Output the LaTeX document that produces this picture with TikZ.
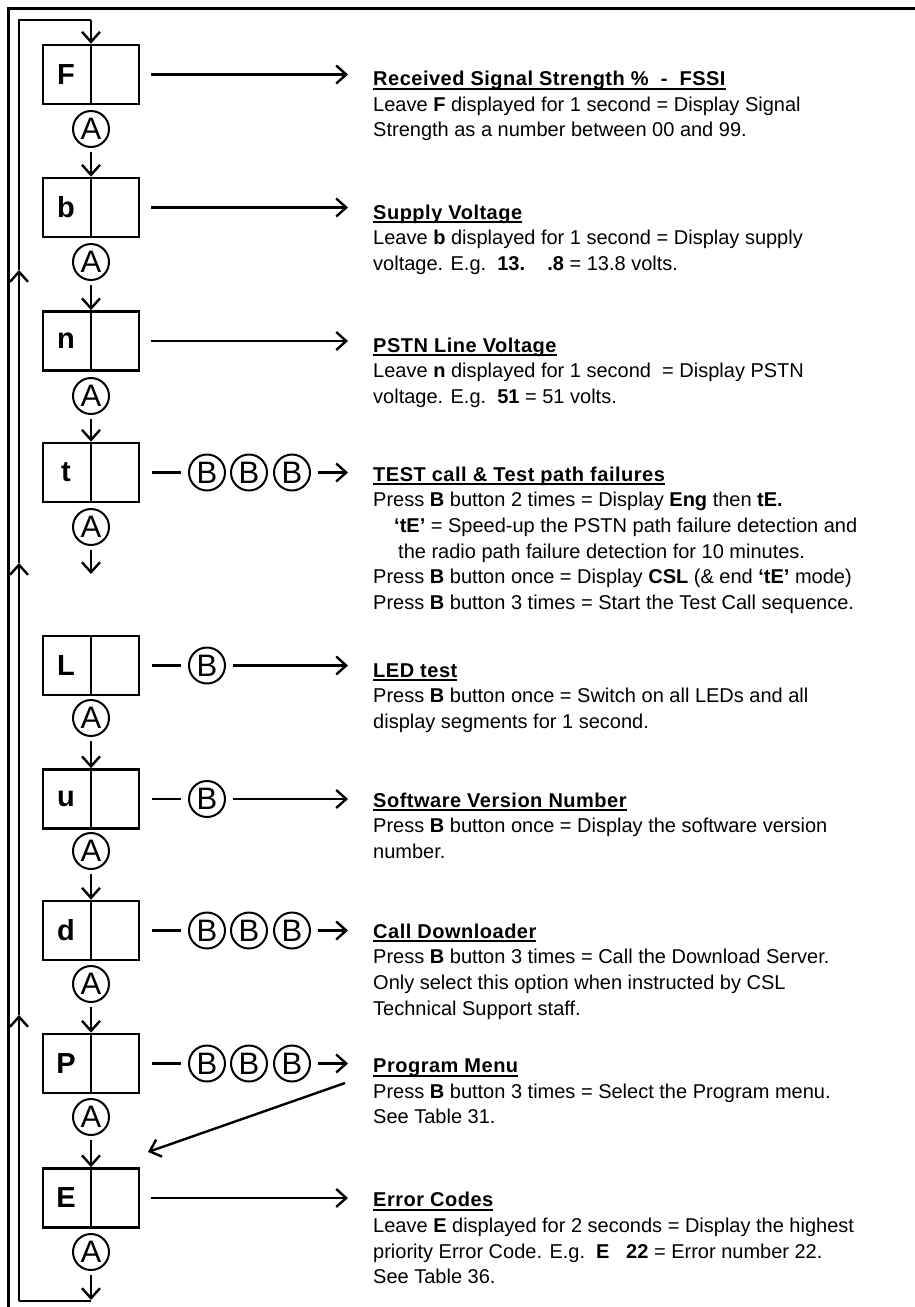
\documentclass[tikz,border=0pt]{standalone}
\usepackage{fontspec}
\setmainfont{Liberation Sans}
\newfontfamily\headfont[LetterSpace=2.5]{Liberation Sans}
\usetikzlibrary{arrows.meta}
\newcommand\ulhead[1]{\setbox0\hbox{\headfont\bfseries #1}\rlap{\rule[-4.2pt]{\wd0}{2pt}}\box0}
\tikzset{
  disp/.style={draw,line width=2.7pt,minimum width=96pt,minimum height=59pt,inner sep=0pt},
  lett/.style={inner sep=0pt,font=\fontsize{29}{29}\bfseries\selectfont},
  btn/.style={draw,circle,line width=2pt,minimum size=36pt,inner sep=0pt,font=\fontsize{31}{31}\selectfont},
  desc/.style={anchor=north west,inner sep=0pt,align=left,font=\fontsize{20}{25.6}\selectfont},
}
\begin{document}
\begin{tikzpicture}[x=1pt,y=-1pt,>={Straight Barb[length=10pt,width=18pt]},line width=2.4pt]
\useasboundingbox (0,0) rectangle (915,1307);
% frame
\draw[line width=3pt] (8,1307) -- (8,8) -- (915,8);

% display boxes
\node[disp] (F) at (91,74.5) {}; \node[lett] (lF) at (66,74.5) {F};
\node[disp] (b) at (91,207.5) {}; \node[lett] (lb) at (66,207.5) {b};
\node[disp] (n) at (91,341) {}; \node[lett] (ln) at (66,341) {n};
\node[disp] (t) at (91,472.5) {}; \node[lett] (lt) at (66,472.5) {t};
\node[disp] (L) at (91,665.5) {}; \node[lett] (lL) at (66,665.5) {L};
\node[disp] (u) at (91,799) {}; \node[lett] (lu) at (66,799) {u};
\node[disp] (d) at (91,930.5) {}; \node[lett] (ld) at (66,930.5) {d};
\node[disp] (P) at (91,1063.5) {}; \node[lett] (lP) at (66,1063.5) {P};
\node[disp] (E) at (91,1198) {}; \node[lett] (lE) at (66,1198) {E};
\foreach \k in {F,b,n,t,L,u,d,P,E} \draw[line width=2.7pt] (\k.north) -- (\k.south);

% A buttons
\node[btn] (aF) at (91,129) {A};
\node[btn] (ab) at (91,262) {A};
\node[btn] (an) at (91,396) {A};
\node[btn] (at) at (91,527) {A};
\node[btn] (aL) at (91,718) {A};
\node[btn] (au) at (91,851) {A};
\node[btn] (ad) at (91,984) {A};
\node[btn] (aP) at (91,1117) {A};
\node[btn] (aE) at (91,1252) {A};
\coordinate (tend) at (91,574);
\coordinate (bot) at (91,1300);

\path (aF) edge[->,shorten <=4pt] (b);
\path (ab) edge[->,shorten <=4pt] (n);
\path (an) edge[->,shorten <=4pt] (t);
\path (at) edge[->,shorten <=4pt] (tend);
\path (aL) edge[->,shorten <=4pt] (u);
\path (au) edge[->,shorten <=4pt] (d);
\path (ad) edge[->,shorten <=4pt] (P);
\path (aP) edge[->,shorten <=4pt] (E);
\path (aE) edge[->,shorten <=4pt] (bot);

% loop back to F
\coordinate (lbot) at (19,1301); \coordinate (up3) at (19,1015);
\coordinate (up2) at (19,563); \coordinate (up1) at (19,270);
\coordinate (ltop) at (19,20); \coordinate (ftop) at (91,20);
\draw (bot |- lbot) -- (lbot);
\draw[->] (lbot) -- (up3);
\draw[->] (up3) -- (up2);
\draw[->] (up2) -- (up1);
\draw (up1) -- (ltop) -- (ftop);
\path (ftop) edge[->] (F);

% B buttons
\node[btn] (tB1) at (207,472.5) {B}; \node[btn] (tB2) at (249,472.5) {B}; \node[btn] (tB3) at (292,472.5) {B};
\node[btn] (LB) at (207,665.5) {B};
\node[btn] (uB) at (207,799) {B};
\node[btn] (dB1) at (207,930.5) {B}; \node[btn] (dB2) at (249,930.5) {B}; \node[btn] (dB3) at (292,930.5) {B};
\node[btn] (PB1) at (207,1063.5) {B}; \node[btn] (PB2) at (249,1063.5) {B}; \node[btn] (PB3) at (292,1063.5) {B};

% arrows to texts
\coordinate (eF) at (348,74.5); \coordinate (eb) at (348,207.5); \coordinate (en) at (348,341);
\coordinate (et) at (348,472.5); \coordinate (eL) at (348,665.5); \coordinate (eu) at (348,799);
\coordinate (ed) at (348,930.5); \coordinate (eP) at (348,1063.5); \coordinate (eE) at (348,1198);
\path (F) edge[->,shorten <=11pt] (eF);
\path (b) edge[->,shorten <=11pt] (eb);
\path (n) edge[->,shorten <=11pt] (en);
\path (t) edge[shorten <=12pt,shorten >=7pt] (tB1);
\path (tB3) edge[->,shorten <=7pt] (et);
\path (L) edge[shorten <=12pt,shorten >=7pt] (LB);
\path (LB) edge[->,shorten <=7pt] (eL);
\path (u) edge[shorten <=12pt,shorten >=7pt] (uB);
\path (uB) edge[->,shorten <=7pt] (eu);
\path (d) edge[shorten <=12pt,shorten >=7pt] (dB1);
\path (dB3) edge[->,shorten <=7pt] (ed);
\path (P) edge[shorten <=12pt,shorten >=7pt] (PB1);
\path (PB3) edge[->,shorten <=7pt] (eP);
\path (E) edge[->,shorten <=11pt] (eE);
\coordinate (pm) at (345,1083); \coordinate (pe) at (148,1152);
\path (pm) edge[->] (pe);

% texts
\node[desc] (tF) at (372,66.6) {\strut\ulhead{Received Signal Strength \%\ \ -\ \ FSSI}\\
Leave \textbf{F} displayed for 1 second = Display Signal\\
Strength as a number between 00 and 99.};
\node[desc] (tb) at (372,200.1) {\strut\ulhead{Supply Voltage}\\
Leave \textbf{b} displayed for 1 second = Display supply\\
voltage. E.g.\ \ \textbf{13.}\ \ \ \ \textbf{.8} = 13.8 volts.};
\node[desc] (tn) at (372,333.1) {\strut\ulhead{PSTN Line Voltage}\\
Leave \textbf{n} displayed for 1 second\ \ = Display PSTN\\
voltage. E.g.\ \ \textbf{51} = 51 volts.};
\node[desc] (tt) at (372,462.1) {\strut\ulhead{TEST call \& Test path failures}\\
Press \textbf{B} button 2 times = Display \textbf{Eng} then \textbf{tE.}\\
\hspace*{21pt}\textbf{‘tE’} = Speed-up the PSTN path failure detection and\\
\hspace*{25pt}the radio path failure detection for 10 minutes.\\
Press \textbf{B} button once = Display \textbf{CSL} (\& end \textbf{‘tE’} mode)\\
Press \textbf{B} button 3 times = Start the Test Call sequence.};
\node[desc] (tL) at (372,658.1) {\strut\ulhead{LED test}\\
Press \textbf{B} button once = Switch on all LEDs and all\\
display segments for 1 second.};
\node[desc] (tu) at (372,788.1) {\strut\ulhead{Software Version Number}\\
Press \textbf{B} button once = Display the software version\\
number.};
\node[desc] (td) at (372,919.1) {\strut\ulhead{Call Downloader}\\
Press \textbf{B} button 3 times = Call the Download Server.\\
Only select this option when instructed by CSL\\
Technical Support staff.};
\node[desc] (tP) at (372,1053.6) {\strut\ulhead{Program Menu}\\
Press \textbf{B} button 3 times = Select the Program menu.\\
See Table 31.};
\node[desc] (tE) at (372,1187.8) {\strut\ulhead{Error Codes}\\
Leave \textbf{E} displayed for 2 seconds = Display the highest\\
priority Error Code. E.g.\ \ \textbf{E}\ \ \ \textbf{22} = Error number 22.\\
See Table 36.};
\end{tikzpicture}
\end{document}
